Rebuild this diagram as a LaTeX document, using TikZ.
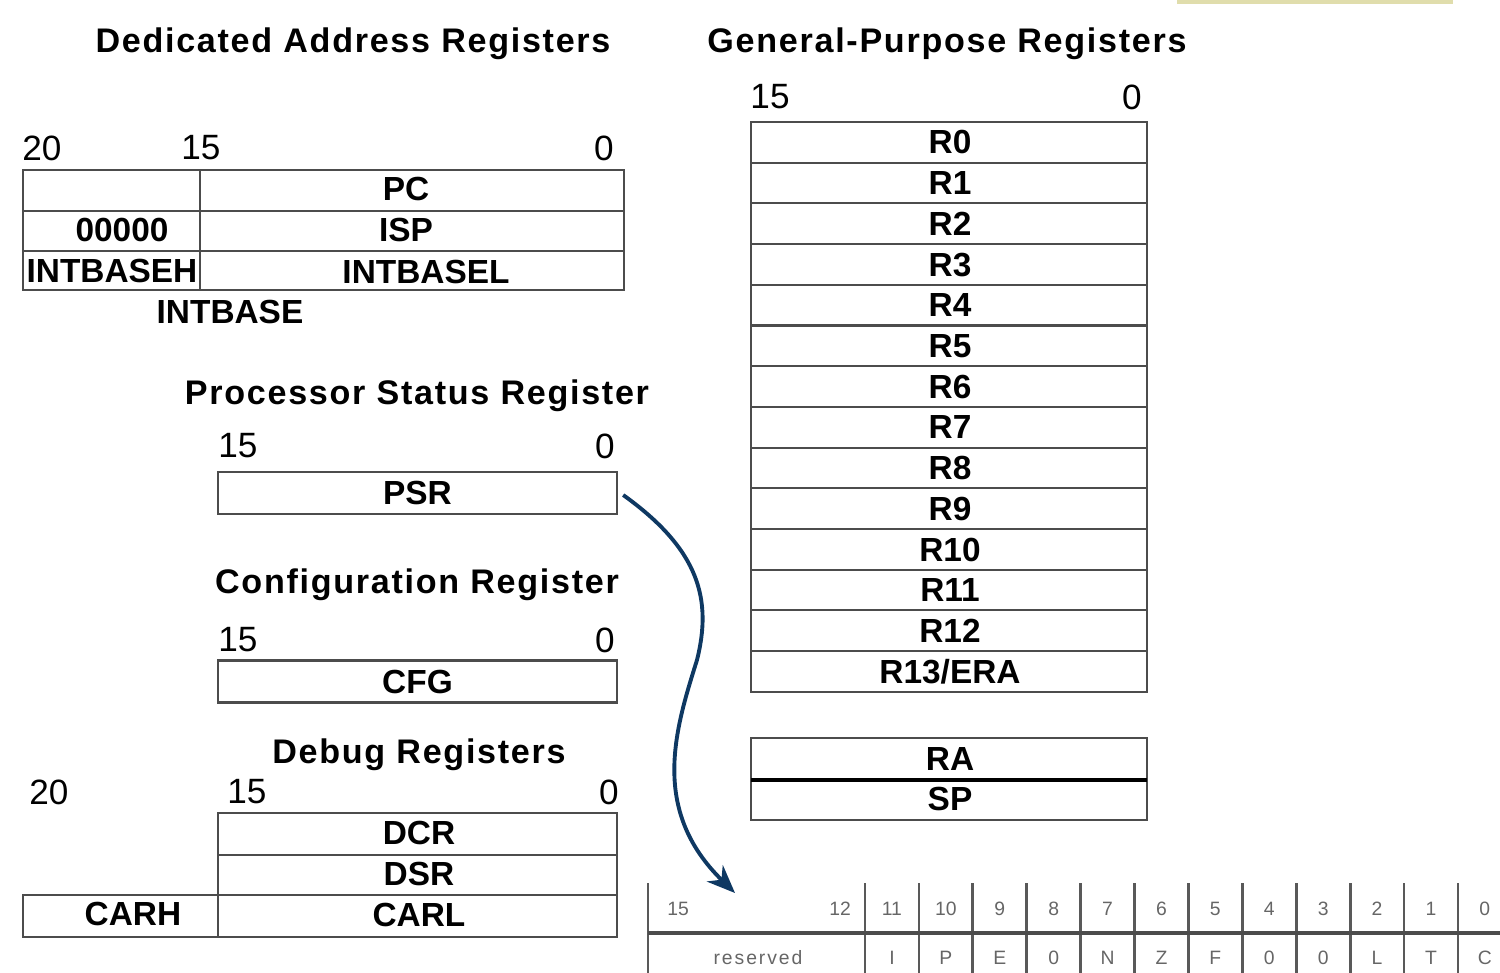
\documentclass[tikz,border=0pt]{standalone}
\usepackage{fontspec}
\setmainfont{Liberation Sans}
\usetikzlibrary{arrows.meta}
\definecolor{arrowblue}{RGB}{14,56,98}
\definecolor{bandyellow}{RGB}{224,221,172}
\tikzset{
  regline/.style = {draw = black!70, line width = 0.6pt},
  title/.style = {font = \fontsize{9.7}{11}\selectfont\bfseries\addfontfeature{LetterSpace=5}, anchor = base},
  reglabel/.style = {font = \fontsize{9.5}{11}\selectfont\bfseries},
  bitnum/.style = {font = \fontsize{10}{12}\selectfont},
  smallbit/.style = {font = \fontsize{5.5}{6}\selectfont, text = black!60},
  regbox/.style = {regline, reglabel, rectangle, inner sep = 0pt, minimum width = 3.99cm, minimum height = 0.42cm},
}
\begin{document}
\begin{tikzpicture}[x = 0.01cm, y = -0.01cm]
  \useasboundingbox (0, 0) rectangle (1500, 973);
  \fill [bandyellow] (1177, 0) rectangle (1453, 4);

  % dedicated address registers
  \node [title] (dedtitle) at (353, 53) {Dedicated Address Registers};
  \node [bitnum] (ded20) at (42, 148) {20};
  \node [bitnum] (ded15) at (201, 148) {15};
  \node [bitnum] (ded0) at (604, 148) {0};
  \draw [regline] (23, 170) rectangle (624, 290);
  \draw [regline] (23, 211) -- (624, 211);
  \draw [regline] (23, 251) -- (624, 251);
  \draw [regline] (200, 170) -- (200, 290);
  \node [reglabel] (pc) at (406, 189) {PC};
  \node [reglabel] (zeros) at (122, 230) {00000};
  \node [reglabel] (isp) at (406, 230) {ISP};
  \node [reglabel] (intbaseh) at (112, 271) {INTBASEH};
  \node [reglabel] (intbasel) at (426, 272) {INTBASEL};
  \node [reglabel] (intbase) at (230, 312) {INTBASE};

  % processor status register
  \node [title] (psrtitle) at (417, 404) {Processor Status Register};
  \node [bitnum] (psr15) at (238, 446) {15};
  \node [bitnum] (psr0) at (605, 446) {0};
  \node [regbox] (psr) at (417.5, 493) {PSR};

  % configuration register
  \node [title] (cfgtitle) at (417, 593) {Configuration Register};
  \node [bitnum] (cfg15) at (238, 640) {15};
  \node [bitnum] (cfg0) at (605, 640) {0};
  \node [regbox] (cfg) at (417.5, 681.5) {CFG};

  % debug registers
  \node [title] (dbgtitle) at (419, 763) {Debug Registers};
  \node [bitnum] (dbg20) at (49, 792) {20};
  \node [bitnum] (dbg15) at (247, 792) {15};
  \node [bitnum] (dbg0) at (609, 792) {0};
  \draw [regline] (218, 813) rectangle (617, 895);
  \draw [regline] (218, 855) -- (617, 855);
  \draw [regline] (23, 895) rectangle (617, 937);
  \draw [regline] (218, 895) -- (218, 937);
  \node [reglabel] (dcr) at (419, 833) {DCR};
  \node [reglabel] (dsr) at (419, 874) {DSR};
  \node [reglabel] (carh) at (133, 914) {CARH};
  \node [reglabel] (carl) at (419, 915) {CARL};

  % general-purpose registers
  \node [title] (gptitle) at (947, 53) {General-Purpose Registers};
  \node [bitnum] (gp15) at (770, 97) {15};
  \node [bitnum] (gp0) at (1132, 97) {0};
  \draw [regline] (751, 122) rectangle (1147, 692);
  \foreach \i in {1, ..., 13}
    \draw [regline] (751, {122 + 40.7 * \i}) -- (1147, {122 + 40.7 * \i});
  \foreach \i in {0, ..., 12}
    \node [reglabel] (r\i) at (950, {142.5 + 40.7 * \i}) {R\i};
  \node [reglabel] (r13) at (950, 672) {R13/ERA};
  \draw [regline] (751, 738) rectangle (1147, 820);
  \draw [black, line width = 1.2pt] (751, 780) -- (1147, 780);
  \node [reglabel] (ra) at (950, 759) {RA};
  \node [reglabel] (sp) at (950, 799) {SP};

  % psr bit fields
  \draw [black!65, line width = 0.8pt] (648, 883) -- (648, 973);
  \foreach \k in {0, ..., 12}
    \draw [black!65, line width = 0.8pt] ({865 + 53.9 * \k}, 883) -- ({865 + 53.9 * \k}, 973);
  \draw [black!70, line width = 1.4pt] (648, 933) -- (1500, 933);
  \node [smallbit] (bit15) at (678, 909) {15};
  \node [smallbit] (bit12) at (840, 909) {12};
  \node [smallbit, font = \fontsize{5.5}{6}\selectfont\addfontfeature{LetterSpace=10}] (reserved) at (758, 958) {reserved};
  \foreach \lab [count = \k from 0] in {I, P, E, 0, N, Z, F, 0, 0, L, T, C} {
    \pgfmathtruncatemacro\b{11 - \k}
    \node [smallbit] (bit\b) at ({865 + 53.9 * (\k + 0.5)}, 909) {\b};
    \node [smallbit] (flag\b) at ({865 + 53.9 * (\k + 0.5)}, 958) {\lab};
  }

  % arrow from psr to its bit fields
  \coordinate (psrbits) at (735, 893);
  \draw [arrowblue, line width = 1.1pt, -{Stealth[length = 8pt, width = 6.5pt]}]
    ([xshift = 0.05cm, yshift = -0.02cm] psr.east) .. controls (700, 550) and (712, 600) .. (697, 660)
    .. controls (675, 730) and (650, 810) .. (psrbits);
\end{tikzpicture}
\end{document}
